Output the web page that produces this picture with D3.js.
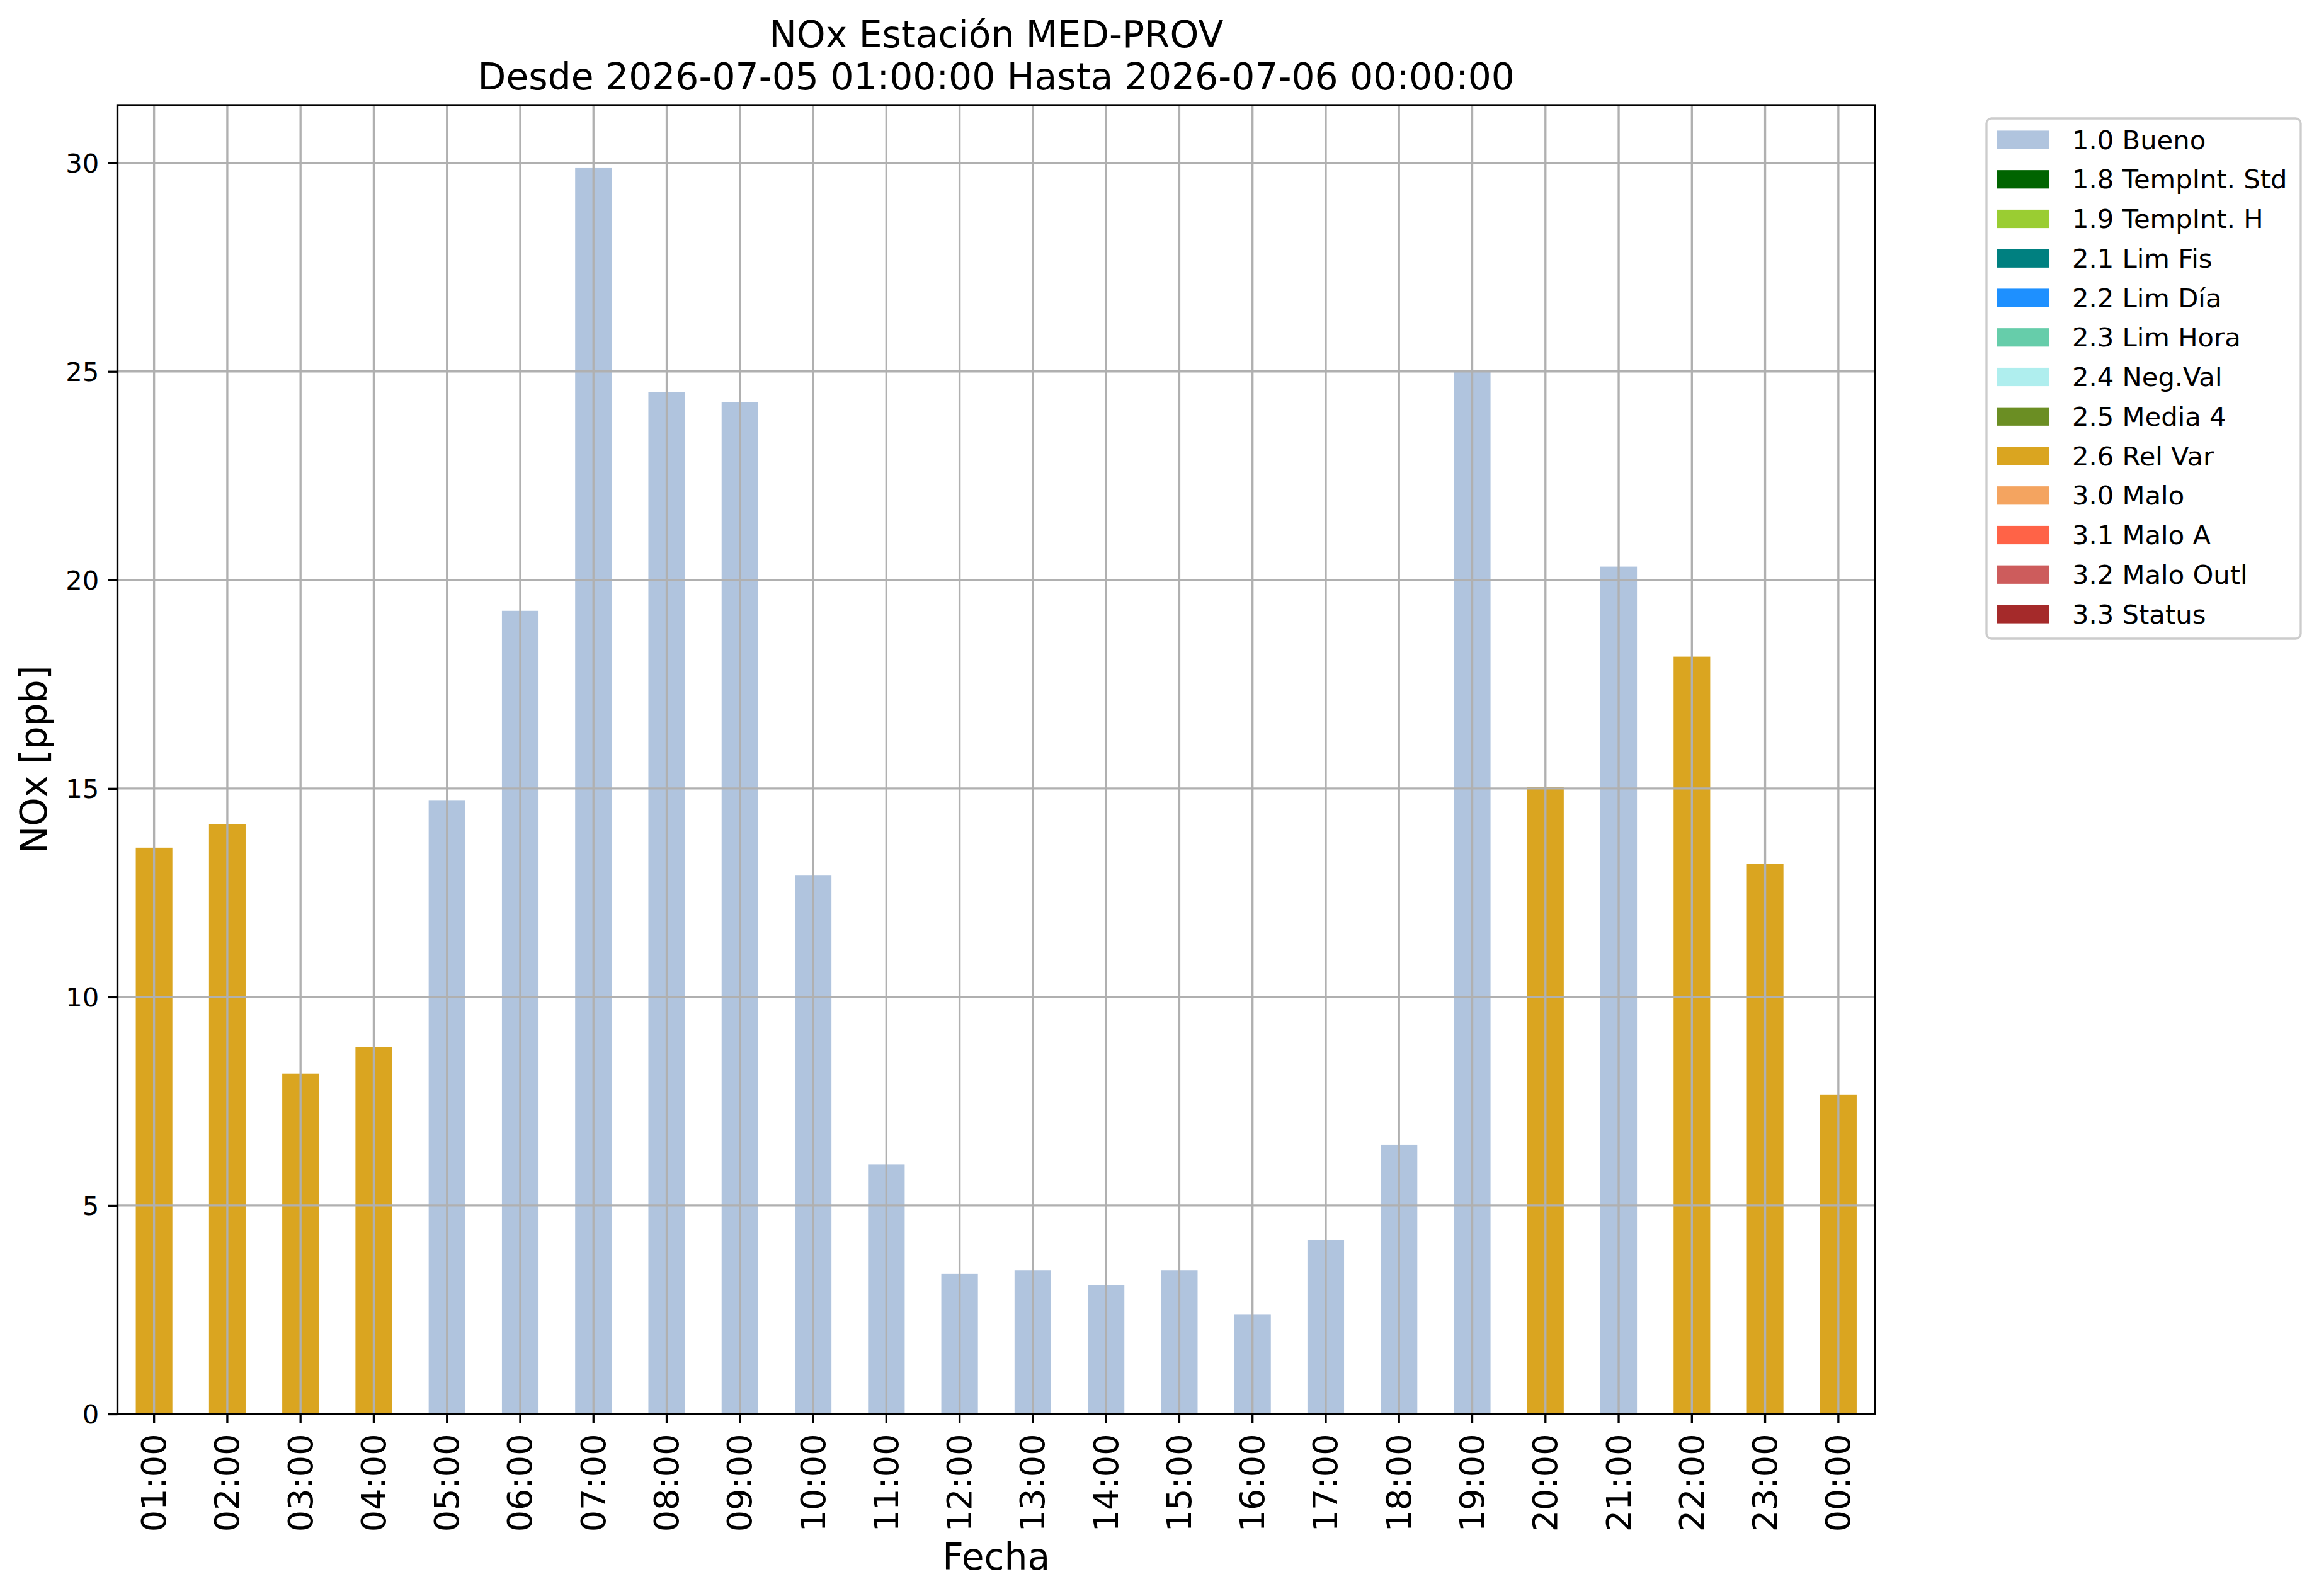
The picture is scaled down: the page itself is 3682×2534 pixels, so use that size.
<!DOCTYPE html>
<html>
<head>
<meta charset="utf-8">
<script src="https://cdn.jsdelivr.net/npm/d3@7"></script>
<style>
  body { margin: 0; background: white; }
  text { font-family: "DejaVu Sans", sans-serif; fill: black; }
</style>
</head>
<body>
<div id="chart"></div>
<script>
// hours on the x axis
var hours = ["01:00","02:00","03:00","04:00","05:00","06:00","07:00","08:00",
             "09:00","10:00","11:00","12:00","13:00","14:00","15:00","16:00",
             "17:00","18:00","19:00","20:00","21:00","22:00","23:00","00:00"]

// NOx values [ppb]
var noxValues = [13.58, 14.15, 8.16, 8.79, 14.72, 19.26, 29.89, 24.50,
                 24.26, 12.91, 5.99, 3.37, 3.44, 3.09, 3.44, 2.38,
                 4.18, 6.45, 25.0, 15.04, 20.32, 18.16, 13.19, 7.66]

// validation flag of each hour
var noxFlags = ["2.6","2.6","2.6","2.6","1.0","1.0","1.0","1.0",
                "1.0","1.0","1.0","1.0","1.0","1.0","1.0","1.0",
                "1.0","1.0","1.0","2.6","1.0","2.6","2.6","2.6"]

var flagCodes  = ["1.0","1.8","1.9","2.1","2.2","2.3","2.4","2.5","2.6","3.0","3.1","3.2","3.3"]
var flagNames  = ["1.0 Bueno","1.8 TempInt. Std","1.9 TempInt. H","2.1 Lim Fis","2.2 Lim Día",
                  "2.3 Lim Hora","2.4 Neg.Val","2.5 Media 4","2.6 Rel Var","3.0 Malo",
                  "3.1 Malo A","3.2 Malo Outl","3.3 Status"]
var flagColors = ["#b0c4de","#006400","#9acd32","#008080","#1e90ff","#66cdaa","#afeeee",
                  "#6b8e23","#daa520","#f4a460","#ff6347","#cd5c5c","#a52a2a"]

var yTicks = [0, 5, 10, 15, 20, 25, 30]

var W = 3682, H = 2534,
	axLeft = 186.5, axRight = 2977, axTop = 167, axBottom = 2245,
	lw = 3.33,       // 0.8pt at 300 dpi
	tickLen = 14.6,
	pad = 14.6,
	fsSmall = 41.7,  // 10pt
	fsTick = 54.2,   // 13pt
	fsBig = 58.3     // 14pt

var color = d3.scaleOrdinal().domain(flagCodes).range(flagColors)

var svg = d3.select("#chart")
	.append("svg")
	.attr("width", W)
	.attr("height", H)

var x = d3.scaleBand()
	.domain(hours)
	.range([axLeft, axRight])
	.paddingInner(0.5)
	.paddingOuter(0.25)

var yMax = d3.max(noxValues) * 1.05
var y = d3.scaleLinear()
	.domain([0, yMax])
	.range([axBottom, axTop])

// bars
svg.selectAll(".bar")
	.data(noxValues)
	.enter()
	.append("rect")
	.attr("class", "bar")
	.attr("x", function(d,i){ return x(hours[i]) })
	.attr("width", x.bandwidth())
	.attr("y", function(d){ return y(d) })
	.attr("height", function(d){ return y(0) - y(d) })
	.attr("fill", function(d,i){ return color(noxFlags[i]) })

// grid (drawn over the bars, like matplotlib)
var grid = svg.append("g").attr("stroke", "#b0b0b0").attr("stroke-width", lw)
grid.selectAll(".vgrid")
	.data(hours)
	.enter()
	.append("line")
	.attr("x1", function(d){ return x(d) + x.bandwidth()/2 })
	.attr("x2", function(d){ return x(d) + x.bandwidth()/2 })
	.attr("y1", axTop)
	.attr("y2", axBottom)
grid.selectAll(".hgrid")
	.data(yTicks)
	.enter()
	.append("line")
	.attr("x1", axLeft)
	.attr("x2", axRight)
	.attr("y1", function(d){ return y(d) })
	.attr("y2", function(d){ return y(d) })

// x axis
var xAxis = svg.append("g")
	.attr("transform", "translate(0," + axBottom + ")")
	.call(d3.axisBottom(x).tickSize(tickLen).tickPadding(pad).tickSizeOuter(0))
xAxis.select(".domain").remove()
xAxis.selectAll(".tick line").attr("stroke", "black").attr("stroke-width", lw)
xAxis.selectAll(".tick text")
	.attr("font-size", fsTick)
	.attr("font-family", "DejaVu Sans")
	.attr("fill", "black")
	.attr("text-anchor", "end")
	.attr("dy", null)
	.attr("y", null)
	.attr("dominant-baseline", "central")
	.attr("transform", "translate(0," + (tickLen + pad + 2) + ") rotate(-90)")

// y axis
var yAxis = svg.append("g")
	.attr("transform", "translate(" + axLeft + ",0)")
	.call(d3.axisLeft(y).tickValues(yTicks).tickSize(tickLen).tickPadding(pad).tickSizeOuter(0))
yAxis.select(".domain").remove()
yAxis.selectAll(".tick line").attr("stroke", "black").attr("stroke-width", lw)
yAxis.selectAll(".tick text")
	.attr("font-size", fsSmall)
	.attr("font-family", "DejaVu Sans")
	.attr("fill", "black")
	.attr("dy", "0.35em")

// frame
svg.append("rect")
	.attr("x", axLeft)
	.attr("y", axTop)
	.attr("width", axRight - axLeft)
	.attr("height", axBottom - axTop)
	.attr("fill", "none")
	.attr("stroke", "black")
	.attr("stroke-width", lw)

// titles
var cx = (axLeft + axRight) / 2
svg.append("text")
	.attr("x", cx).attr("y", 75)
	.attr("text-anchor", "middle")
	.attr("font-size", fsBig)
	.text("NOx Estación MED-PROV")
svg.append("text")
	.attr("x", cx).attr("y", 142)
	.attr("text-anchor", "middle")
	.attr("font-size", fsBig)
	.text("Desde 2026-07-05 01:00:00 Hasta 2026-07-06 00:00:00")

svg.append("text")
	.attr("x", cx).attr("y", 2492)
	.attr("text-anchor", "middle")
	.attr("font-size", fsBig)
	.text("Fecha")

svg.append("text")
	.attr("transform", "translate(74," + ((axTop + axBottom) / 2) + ") rotate(-90)")
	.attr("text-anchor", "middle")
	.attr("font-size", fsBig)
	.text("NOx [ppb]")

// legend
var legX = 3154, legY = 188, legW = 499, legH = 826,
	rowH = 62.75, firstRow = 222

var legend = svg.append("g")
legend.append("rect")
	.attr("x", legX).attr("y", legY)
	.attr("width", legW).attr("height", legH)
	.attr("rx", 8).attr("ry", 8)
	.attr("fill", "white")
	.attr("fill-opacity", 0.8)
	.attr("stroke", "#cccccc")
	.attr("stroke-width", lw)

var rows = legend.selectAll(".legRow")
	.data(flagCodes)
	.enter()
	.append("g")
	.attr("class", "legRow")
	.attr("transform", function(d,i){ return "translate(0," + (firstRow + i*rowH) + ")" })

rows.append("rect")
	.attr("x", 3170.5)
	.attr("y", -14.6)
	.attr("width", 83.4)
	.attr("height", 29.2)
	.attr("fill", function(d){ return color(d) })

rows.append("text")
	.attr("x", 3290)
	.attr("y", 14.5)
	.attr("font-size", fsSmall)
	.text(function(d,i){ return flagNames[i] })
</script>
</body>
</html>
